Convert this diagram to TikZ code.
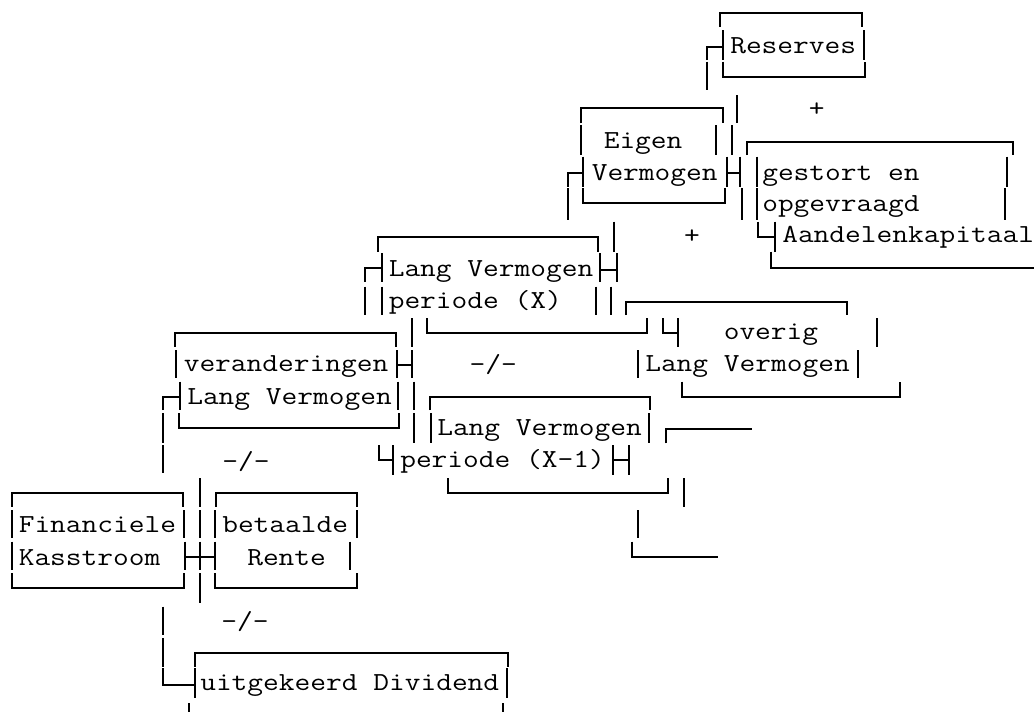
\documentclass[tikz,border=0pt]{standalone}
\usepackage{graphicx}
% typewriter text widened to the fixed cell width of the box-drawing grid
\newcommand{\wtt}[1]{\scalebox{1.175}[1]{#1}}
\begin{document}
\begin{tikzpicture}[x=0.75pt,y=-0.75pt,
  ln/.style={line width=1.5pt, line cap=butt, line join=miter},
  txt/.style={anchor=base west, inner sep=0pt, font=\ttfamily\fontsize{19.5pt}{23pt}\selectfont},
  sym/.style={anchor=center, inner sep=0pt, font=\ttfamily\fontsize{19.5pt}{23pt}\selectfont}]
\fill[white] (0,0) rectangle (1034,711);
\useasboundingbox (0,0) rectangle (1034,711);

% ---------- texts ----------
\node[txt] (reserves) at (730,53.5) {\wtt{Reserves}};
\node[sym] (plusA) at (816.7,110) {\wtt{+}};
\node[txt] (eigen) at (603.5,148.3) {\wtt{Eigen}};
\node[txt] (vermogen) at (591.5,180) {\wtt{Vermogen}};
\node[txt] (gestort) at (762,180) {\wtt{gestort en}};
\node[txt] (opgevr) at (762,211.7) {\wtt{opgevraagd}};
\node[txt] (aandelen) at (782,242.5) {\wtt{Aandelenkapitaal}};
\node[sym] (plusB) at (692,237) {\wtt{+}};
\node[txt] (lvx) at (388.5,276.7) {\wtt{Lang Vermogen}};
\node[txt] (perx) at (388.5,308.3) {\wtt{periode (X)}};
\node[txt] (overig) at (723.5,339.3) {\wtt{overig}};
\node[txt] (verand) at (183.5,371.7) {\wtt{veranderingen}};
\node[sym] (minA) at (493.3,365) {\wtt{-/-}};
\node[txt] (lvov) at (645,371.7) {\wtt{Lang Vermogen}};
\node[txt] (lvver) at (187,404) {\wtt{Lang Vermogen}};
\node[txt] (lvx1) at (437,435) {\wtt{Lang Vermogen}};
\node[sym] (minB) at (246,461.7) {\wtt{-/-}};
\node[txt] (perx1) at (400,467.3) {\wtt{periode (X-1)}};
\node[txt] (fin) at (18.5,532.7) {\wtt{Financiele}};
\node[txt] (bet) at (222,532.7) {\wtt{betaalde}};
\node[txt] (kas) at (18.5,565) {\wtt{Kasstroom}};
\node[txt] (rente) at (247,565) {\wtt{Rente}};
\node[sym] (minC) at (245,621.7) {\wtt{-/-}};
\node[txt] (div) at (200,690.7) {\wtt{uitgekeerd Dividend}};

% ---------- box-drawing strokes, row by row ----------
% Reserves box
\draw[ln] (720,26.7)--(720,13.3)--(861.7,13.3)--(861.7,26.7);
\draw[ln] (723.3,30)--(723.3,60) (706.7,60)--(706.7,46.7)--(723.3,46.7)
          (864,30)--(864,60);
\draw[ln] (706.7,61.7)--(706.7,90)
          (723.3,61.7)--(723.3,76.7)--(865,76.7)--(865,61.7);
% Eigen Vermogen box
\draw[ln] (736.7,95)--(736.7,123.3)
          (580.7,123.3)--(580.7,108.3)--(722.7,108.3)--(722.7,123.3);
\draw[ln] (580.7,125)--(580.7,155) (716,125)--(716,155) (731.7,125)--(731.7,155)
          (746.7,155)--(746.7,141.7)--(1013.3,141.7)--(1013.3,155);
\draw[ln] (568.3,186.7)--(568.3,173.3)--(583.3,173.3) (583.3,156.7)--(583.3,186.7)
          (726.7,156.7)--(726.7,186.7) (726.7,173.3)--(740,173.3) (740,156.7)--(740,186.7)
          (756.7,156.7)--(756.7,186.7) (1006.7,156.7)--(1006.7,186.7);
\draw[ln] (568.3,188.3)--(568.3,220)
          (583.3,188.3)--(583.3,203.3)--(725,203.3)--(725,188.3)
          (741.7,188.3)--(741.7,220) (756.7,188.3)--(756.7,220) (1005,188.3)--(1005,220);
% Lang Vermogen periode (X) box
\draw[ln] (378.3,251.7)--(378.3,236.7)--(598.3,236.7)--(598.3,251.7)
          (614,221.7)--(614,251.7)
          (758.3,221.7)--(758.3,236.7)--(775,236.7) (775,221.7)--(775,251.7);
\draw[ln] (365,281.7)--(365,268.3)--(381.7,268.3) (381.7,253.3)--(381.7,281.7)
          (600,253.3)--(600,281.7) (600,270)--(616.7,270) (616.7,253.3)--(616.7,281.7)
          (771,251.7)--(771,268.3)--(1040,268.3);
\draw[ln] (365,286.7)--(365,315) (381.7,286.7)--(381.7,315)
          (595.7,286.7)--(595.7,315) (611,286.7)--(611,315)
          (626,315)--(626,301.7)--(846.7,301.7)--(846.7,315);
% veranderingen box, overig box
\draw[ln] (175,346.7)--(175,333.3)--(396,333.3)--(396,346.7)
          (411.7,318.3)--(411.7,346.7)
          (427.3,318.3)--(427.3,333.3)--(646.7,333.3)--(646.7,318.3)
          (663.3,318.3)--(663.3,333.3)--(678.3,333.3) (678.3,318.3)--(678.3,346.7)
          (876.7,318.3)--(876.7,346.7);
\draw[ln] (176,350)--(176,378.3)
          (396.7,350)--(396.7,378.3) (396.7,365)--(411.7,365) (411.7,350)--(411.7,378.3)
          (638.3,350)--(638.3,378.3) (858.3,350)--(858.3,378.3);
\draw[ln] (163.3,410)--(163.3,396.7)--(180,396.7) (180,381.7)--(180,410)
          (398.3,381.7)--(398.3,410) (414.3,381.7)--(414.3,410)
          (430.3,410)--(430.3,396.7)--(650,396.7)--(650,410)
          (681.5,381.7)--(681.5,396.7)--(900,396.7)--(900,381.7);
% Lang Vermogen periode (X-1) box
\draw[ln] (163.3,413)--(163.3,443.3)
          (179.3,413)--(179.3,428.3)--(399.3,428.3)--(399.3,413)
          (414.3,413)--(414.3,443.3) (430.5,413)--(430.5,443.3) (649.3,413)--(649.3,443.3)
          (665.7,443.3)--(665.7,429.3)--(751.7,429.3);
\draw[ln] (163.3,445)--(163.3,473.3)
          (379,445)--(379,460)--(393.3,460) (393.3,445)--(393.3,475)
          (612.7,445)--(612.7,475) (612.7,460)--(629.3,460) (629.3,445)--(629.3,475);
% Financiele Kasstroom, betaalde Rente
\draw[ln] (448.3,478.3)--(448.3,493.3)--(668.3,493.3)--(668.3,478.3)
          (684,478.3)--(684,506.7) (200,478.3)--(200,506.7)
          (11.7,506.7)--(11.7,493.3)--(183.3,493.3)--(183.3,506.7)
          (216,506.7)--(216,493.3)--(356.7,493.3)--(356.7,506.7);
\draw[ln] (11.7,510)--(11.7,538.3) (184,510)--(184,538.3) (200,510)--(200,538.3)
          (215,510)--(215,538.3) (357.3,510)--(357.3,538.3) (638.3,510)--(638.3,538.3);
\draw[ln] (11.7,541.7)--(11.7,570)
          (185,541.7)--(185,570) (185,557.3)--(215,557.3) (200,541.7)--(200,570) (215,541.7)--(215,570)
          (349.5,541.7)--(349.5,570)
          (632.3,541.7)--(632.3,556.7)--(718.3,556.7);
\draw[ln] (11.7,573)--(11.7,588.3)--(184,588.3)--(184,573)
          (200,573)--(200,603.3)
          (215,573)--(215,588.3)--(356.7,588.3)--(356.7,573);
% uitgekeerd Dividend box
\draw[ln] (163.3,606.7)--(163.3,635);
\draw[ln] (163.3,638)--(163.3,666.7)
          (195,666.7)--(195,653.3)--(508.3,653.3)--(508.3,666.7);
\draw[ln] (163.3,668.3)--(163.3,685)--(195,685) (195,668.3)--(195,698.3)
          (507.3,668.3)--(507.3,698.3);
\draw[ln] (189.3,703)--(189.3,715) (502.7,703)--(502.7,715);
\end{tikzpicture}
\end{document}
